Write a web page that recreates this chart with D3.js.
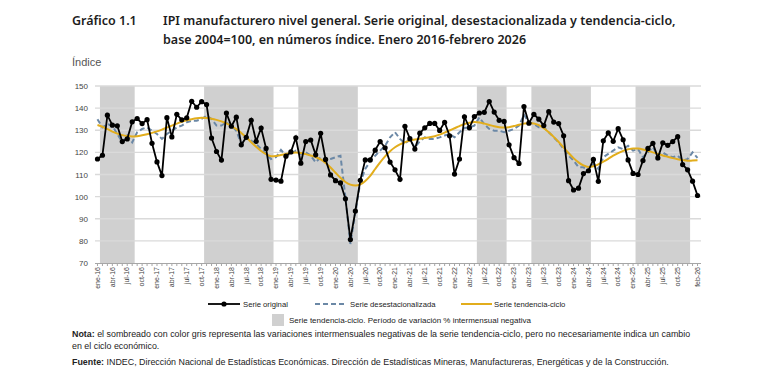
<!doctype html>
<html lang="es">
<head>
<meta charset="UTF-8">
<title>IPI manufacturero</title>
<script src="https://d3js.org/d3.v7.min.js"></script>
<style>
  body { margin: 0; background: #fff; }
  svg text { font-family: "Liberation Sans", Arial, sans-serif; }
  .title { font-family: "Noto Sans", sans-serif; font-weight: 600; font-size: 12.5px; fill: #1d1d1d; }
</style>
</head>
<body>
<div id="chart"></div>
<script>
  // Data
  const meses = ['ene', 'feb', 'mar', 'abr', 'may', 'jun', 'jul', 'ago', 'sep', 'oct', 'nov', 'dic'];
  const categories = [];
  for (let y = 16; y <= 26; y++) {
    for (let m = 0; m < 12; m++) {
      if (y === 26 && m > 1) break;
      categories.push(meses[m] + '-' + y);
    }
  }
  // every third month up to oct-25, then the last month
  const xTicks = categories.filter((c, i) => i % 3 === 0 && i < 120).concat(['feb-26']);
  const yTicks = [70, 80, 90, 100, 110, 120, 130, 140, 150];

  const original = [
    117.0, 118.7, 136.8, 132.3, 132.0, 124.9, 126.1, 133.8, 135.3, 133.0, 134.8, 124.1,
    115.7, 109.5, 135.7, 127.0, 137.2, 134.7, 135.6, 143.1, 140.4, 142.9, 141.6, 126.5,
    120.4, 116.5, 137.8, 131.8, 135.9, 123.4, 126.8, 134.5, 125.0, 131.0, 121.8, 107.8,
    107.5, 107.0, 118.3, 120.2, 126.6, 115.1, 124.9, 125.6, 118.9, 128.6, 116.8, 109.8,
    107.2, 106.2, 99.0, 80.6, 93.5, 107.4, 116.6, 116.6, 121.0, 124.9, 122.1, 115.6,
    112.1, 107.8, 131.8, 126.2, 121.5, 128.7, 131.1, 133.1, 133.1, 129.9, 133.6, 127.5,
    110.2, 117.0, 136.1, 131.1, 136.2, 137.8, 138.1, 143.0, 138.2, 134.5, 134.0, 123.4,
    117.6, 115.0, 140.7, 133.2, 137.2, 135.0, 132.1, 138.4, 133.7, 133.0, 127.5, 107.2,
    103.0, 103.8, 110.4, 111.7, 116.8, 106.9, 125.2, 128.8, 125.0, 130.7, 125.7, 116.6,
    110.5, 110.0, 116.3, 121.8, 124.1, 117.5, 124.3, 123.2, 124.9, 127.1, 114.5, 112.1,
    107.0, 100.5
  ];

  const desestacionalizada = [
    135.0, 131.3, 132.8, 132.1, 128.3, 124.5, 127.6, 124.5, 129.1, 130.6, 131.3, 129.8,
    128.3, 126.1, 128.3, 129.8, 131.3, 132.1, 133.6, 134.3, 134.3, 135.1, 136.6, 135.1,
    132.1, 132.1, 133.6, 132.1, 129.8, 123.8, 126.8, 125.3, 123.8, 121.5, 119.3, 117.0,
    117.8, 121.1, 118.5, 119.3, 120.8, 119.3, 120.0, 118.5, 115.5, 117.8, 116.3, 117.0,
    117.8, 118.5, 99.7, 78.6, 92.9, 106.5, 112.5, 116.0, 118.5, 120.8, 123.0, 126.8,
    129.1, 126.1, 124.1, 125.6, 122.3, 125.0, 126.8, 126.1, 126.1, 126.8, 127.6, 128.3,
    126.8, 129.1, 131.0, 131.3, 132.1, 135.8, 132.8, 130.6, 129.8, 129.8, 129.1, 129.8,
    130.6, 132.1, 137.0, 133.6, 132.8, 131.3, 131.3, 129.1, 126.8, 124.5, 121.5, 118.5,
    116.3, 113.3, 113.3, 111.4, 114.8, 112.5, 117.8, 119.3, 120.8, 122.3, 121.5, 123.0,
    120.8, 121.5, 117.8, 120.0, 122.3, 118.5, 120.0, 118.5, 117.8, 118.5, 116.3, 117.0,
    120.0, 117.5
  ];

  const tendencia = [
    132.4, 131.6, 130.5, 129.4, 128.5, 127.8, 127.4, 127.2, 127.3, 127.7, 128.2, 128.8,
    129.5, 130.3, 131.2, 132.1, 133.0, 133.8, 134.5, 135.0, 135.4, 135.6, 135.5, 135.2,
    134.7, 134.0, 133.1, 131.9, 130.5, 128.8, 126.8, 124.6, 122.5, 120.6, 119.2, 118.3,
    118.4, 118.8, 119.3, 119.7, 119.9, 119.7, 119.2, 118.6, 117.9, 116.8, 115.2, 113.2,
    110.8, 108.5, 106.6, 105.4, 105.0, 105.5, 107.1, 109.4, 112.5, 115.5, 118.2, 120.5,
    122.3, 123.6, 124.6, 125.3, 125.8, 126.2, 126.5, 126.8, 127.3, 128.0, 128.9, 129.9,
    130.9, 131.9, 132.8, 133.4, 133.7, 133.5, 133.0, 132.4, 131.8, 131.4, 131.2, 131.4,
    131.9, 132.5, 133.0, 133.3, 133.1, 132.3, 130.9, 129.1, 127.0, 124.7, 122.2, 119.7,
    117.4, 115.5, 114.1, 113.4, 113.7, 114.6, 115.8, 117.1, 118.5, 119.7, 120.7, 121.4,
    121.8, 121.7, 121.3, 120.7, 120.0, 119.3, 118.6, 118.0, 117.4, 116.9, 116.5, 116.2,
    116.3, 116.4
  ];

  // months where the trend-cycle falls month over month
  const sombreado = [
    ['feb-16', 'ago-16'],
    ['nov-17', 'dic-18'],
    ['jun-19', 'may-20'],
    ['jun-22', 'nov-22'],
    ['may-23', 'abr-24'],
    ['feb-25', 'dic-25']
  ];

  const colors = {
    original: '#000000',
    desest: '#6b88a6',
    tendencia: '#e2ad1c',
    shade: '#d0d0d0',
    grid: '#dadada'
  };

  // Dimensions
  const width = 766, height = 385;
  const plot = { left: 95, right: 700, top: 86, bottom: 263 };

  const svg = d3.select('#chart').append('svg')
    .attr('width', width)
    .attr('height', height);

  svg.append('rect').attr('width', width).attr('height', height).attr('fill', '#fff');

  // Scales
  const xScale = d3.scaleBand()
    .domain(categories)
    .range([plot.left, plot.right])
    .padding(0);
  const xc = d => xScale(d) + xScale.bandwidth() / 2;

  const yScale = d3.scaleLinear()
    .domain([70, 150])
    .range([plot.bottom, plot.top]);

  // Shading
  svg.append('g').selectAll('rect')
    .data(sombreado)
    .join('rect')
    .attr('x', d => xScale(d[0]))
    .attr('width', d => xScale(d[1]) + xScale.bandwidth() - xScale(d[0]))
    .attr('y', yScale(150))
    .attr('height', yScale(70) - yScale(150))
    .attr('fill', colors.shade);

  // Grid
  svg.append('g').selectAll('line')
    .data(yTicks.slice(1))
    .join('line')
    .attr('x1', plot.left)
    .attr('x2', plot.right + 1)
    .attr('y1', d => yScale(d))
    .attr('y2', d => yScale(d))
    .attr('stroke', colors.grid)
    .attr('stroke-width', 1.3);

  // Y axis labels
  svg.append('g').selectAll('text')
    .data(yTicks)
    .join('text')
    .attr('x', 88)
    .attr('y', d => yScale(d) + 3)
    .attr('text-anchor', 'end')
    .attr('font-size', 8)
    .attr('fill', '#444')
    .text(d => d);

  // X axis
  const xAxis = d3.axisBottom(xScale)
    .tickSize(3)
    .tickFormat(d => xTicks.includes(d) ? d : '');
  const gx = svg.append('g')
    .attr('transform', `translate(0, ${plot.bottom})`)
    .call(xAxis);
  gx.select('.domain').attr('stroke', '#a6a6a6').attr('d', `M${plot.left},0.5H${plot.right + 1}`);
  gx.selectAll('.tick line').attr('stroke', '#a6a6a6');
  gx.selectAll('.tick text')
    .attr('font-family', '"Liberation Sans", Arial, sans-serif')
    .attr('font-size', 7)
    .attr('fill', '#444')
    .attr('text-anchor', 'end')
    .attr('transform', 'rotate(-90)')
    .attr('x', -4)
    .attr('y', 0)
    .attr('dy', '0.32em');

  // Lines
  const line = values => d3.line()
    .x((d, i) => xc(categories[i]))
    .y(d => yScale(d))(values);

  svg.append('path')
    .attr('d', line(desestacionalizada))
    .attr('fill', 'none')
    .attr('stroke', colors.desest)
    .attr('stroke-width', 2)
    .attr('stroke-dasharray', '5,3');

  svg.append('path')
    .attr('d', d3.line()
      .x((d, i) => xc(categories[i]))
      .y(d => yScale(d))
      .curve(d3.curveMonotoneX)(tendencia))
    .attr('fill', 'none')
    .attr('stroke', colors.tendencia)
    .attr('stroke-width', 2);

  svg.append('path')
    .attr('d', line(original))
    .attr('fill', 'none')
    .attr('stroke', colors.original)
    .attr('stroke-width', 1.8);

  svg.append('g').selectAll('circle')
    .data(original)
    .join('circle')
    .attr('cx', (d, i) => xc(categories[i]))
    .attr('cy', d => yScale(d))
    .attr('r', 2.6)
    .attr('fill', colors.original);

  // Titles
  svg.append('text').attr('class', 'title').attr('x', 72).attr('y', 25).text('Gráfico 1.1');
  svg.append('text').attr('class', 'title').attr('x', 163).attr('y', 25)
    .text('IPI manufacturero nivel general. Serie original, desestacionalizada y tendencia-ciclo,');
  svg.append('text').attr('class', 'title').attr('x', 163).attr('y', 44)
    .text('base 2004=100, en números índice. Enero 2016-febrero 2026');

  svg.append('text')
    .attr('x', 72).attr('y', 66)
    .attr('font-size', 11)
    .attr('fill', '#555')
    .text('Índice');

  // Legend
  const legend = svg.append('g').attr('font-size', 7.7).attr('fill', '#222');
  const ly = 304;
  legend.append('line').attr('x1', 208).attr('x2', 240).attr('y1', ly).attr('y2', ly)
    .attr('stroke', colors.original).attr('stroke-width', 1.8);
  legend.append('circle').attr('cx', 224).attr('cy', ly).attr('r', 2.6).attr('fill', colors.original);
  legend.append('text').attr('x', 243).attr('y', ly + 3).text('Serie original');

  legend.append('line').attr('x1', 315).attr('x2', 347).attr('y1', ly).attr('y2', ly)
    .attr('stroke', colors.desest).attr('stroke-width', 2).attr('stroke-dasharray', '5,3');
  legend.append('text').attr('x', 350).attr('y', ly + 3).text('Serie desestacionalizada');

  legend.append('line').attr('x1', 461).attr('x2', 492).attr('y1', ly).attr('y2', ly)
    .attr('stroke', colors.tendencia).attr('stroke-width', 2);
  legend.append('text').attr('x', 494).attr('y', ly + 3).text('Serie tendencia-ciclo');

  legend.append('rect').attr('x', 272).attr('y', 314).attr('width', 12).attr('height', 12)
    .attr('fill', colors.shade);
  legend.append('text').attr('x', 289).attr('y', 323).attr('font-size', 8)
    .text('Serie tendencia-ciclo. Período de variación % intermensual negativa');

  // Notes
  const notes = svg.append('g').attr('font-size', 8.9).attr('fill', '#222');
  const n1 = notes.append('text').attr('x', 72).attr('y', 337);
  n1.append('tspan').attr('font-weight', 'bold').text('Nota:');
  n1.append('tspan').text(' el sombreado con color gris representa las variaciones intermensuales negativas de la serie tendencia-ciclo, pero no necesariamente indica un cambio');
  notes.append('text').attr('x', 72).attr('y', 349).text('en el ciclo económico.');
  const n2 = notes.append('text').attr('x', 72).attr('y', 365);
  n2.append('tspan').attr('font-weight', 'bold').text('Fuente:');
  n2.append('tspan').text(' INDEC, Dirección Nacional de Estadísticas Económicas. Dirección de Estadísticas Mineras, Manufactureras, Energéticas y de la Construcción.');
</script>
</body>
</html>
